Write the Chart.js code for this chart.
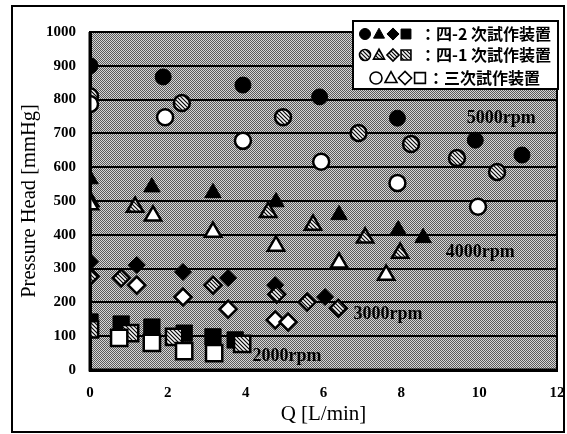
<!DOCTYPE html>
<html>
<head>
<meta charset="utf-8">
<script src="https://cdn.jsdelivr.net/npm/chart.js@4.4.1/dist/chart.umd.min.js"></script>
<style>
  body { margin: 0; background: #fff; }
  #wrap { width: 567px; height: 434px; }
</style>
</head>
<body>
<div id="wrap"><canvas id="pumpChart" width="567" height="434"></canvas></div>
<script>
// Q [L/min] and pressure head [mmHg]
// 四-2 次試作装置 (filled markers)
const q42_5000 = [0, 1.88, 3.93, 5.9, 7.9, 9.9, 11.1];
const h42_5000 = [900, 867, 843, 808, 745, 680, 636];
const q42_4000 = [0, 1.59, 3.16, 4.78, 6.4, 7.92, 8.56];
const h42_4000 = [565, 541, 524, 497, 459, 414, 391];
const q42_3000 = [0, 1.2, 2.39, 3.55, 4.76, 6.04];
const h42_3000 = [320, 311, 290, 272, 251, 216];
const q42_2000 = [0, 0.8, 1.59, 2.42, 3.16, 3.73];
const h42_2000 = [142, 136, 127, 109, 98, 89];
// 四-1 次試作装置 (hatched markers)
const q41_5000 = [0, 2.36, 4.96, 6.9, 8.25, 9.43, 10.46];
const h41_5000 = [810, 790, 748, 701, 669, 627, 586];
const q41_4000 = [0, 1.16, 4.58, 5.73, 7.07, 7.97];
const h41_4000 = [500, 482, 467, 429, 391, 346];
const q41_3000 = [0, 0.8, 3.16, 4.8, 5.58, 6.38];
const h41_3000 = [277, 272, 251, 224, 201, 183];
const q41_2000 = [0, 1.03, 2.16, 3.91];
const h41_2000 = [120, 109, 98, 77];
// 三次試作装置 (open markers)
const q3_5000 = [0, 1.93, 3.93, 5.94, 7.9, 9.97];
const h3_5000 = [787, 748, 678, 616, 553, 483];
const q3_4000 = [0, 1.62, 3.16, 4.78, 6.4, 7.61];
const h3_4000 = [490, 456, 408, 367, 317, 281];
const q3_3000 = [1.2, 2.39, 3.55, 4.76, 5.09];
const h3_3000 = [251, 216, 180, 148, 142];
const q3_2000 = [0.75, 1.59, 2.42, 3.19];
const h3_2000 = [95, 80, 56, 50];

const xTicks = [0, 2, 4, 6, 8, 10, 12];
const yTicks = [0, 100, 200, 300, 400, 500, 600, 700, 800, 900, 1000];
const rpmLabels = ["5000rpm", "4000rpm", "3000rpm", "2000rpm"];
const rpmLabelQ = [10.57, 10.03, 7.66, 5.06];
const rpmLabelH = [745, 349, 166, 41];

// fill patterns
function makeHatch() {
  const c = document.createElement("canvas");
  c.width = 4; c.height = 4;
  const g = c.getContext("2d");
  g.fillStyle = "#f2f2f2";
  g.fillRect(0, 0, 4, 4);
  g.strokeStyle = "#000";
  g.lineWidth = 1.1;
  g.beginPath();
  g.moveTo(0, 0); g.lineTo(4, 4);
  g.moveTo(-1, 3); g.lineTo(1, 5);
  g.moveTo(3, -1); g.lineTo(5, 1);
  g.stroke();
  return g.createPattern(c, "repeat");
}
function makeStipple() {
  const c = document.createElement("canvas");
  c.width = 2; c.height = 2;
  const g = c.getContext("2d");
  g.fillStyle = "#d6d6d6";
  g.fillRect(0, 0, 2, 2);
  g.fillStyle = "#5a5a5a";
  g.fillRect(0, 0, 1, 1);
  g.fillRect(1, 1, 1, 1);
  return g.createPattern(c, "repeat");
}
const hatch = makeHatch();
const stipple = makeStipple();

function pts(xs, ys) {
  return xs.map((x, i) => ({ x: x, y: ys[i] }));
}

const shapes = { 5000: "circle", 4000: "triangle", 3000: "rectRot", 2000: "rect" };
const sizes = { 5000: 8, 4000: 9.5, 3000: 8.5, 2000: 11.5 };

function series(label, xs, ys, rpm, kind) {
  let fill = "#000";
  if (kind === "hatch") fill = hatch;
  if (kind === "open") fill = "#fff";
  return {
    label: label,
    data: pts(xs, ys),
    pointStyle: shapes[rpm],
    pointRadius: sizes[rpm],
    pointHoverRadius: sizes[rpm],
    pointBackgroundColor: fill,
    pointBorderColor: "#000",
    pointBorderWidth: kind === "filled" ? 1 : 2.5,
    showLine: false
  };
}

const datasets = [
  series("三次 5000", q3_5000, h3_5000, 5000, "open"),
  series("三次 4000", q3_4000, h3_4000, 4000, "open"),
  series("三次 3000", q3_3000, h3_3000, 3000, "open"),
  series("三次 2000", q3_2000, h3_2000, 2000, "open"),
  series("四-1 5000", q41_5000, h41_5000, 5000, "hatch"),
  series("四-1 4000", q41_4000, h41_4000, 4000, "hatch"),
  series("四-1 3000", q41_3000, h41_3000, 3000, "hatch"),
  series("四-1 2000", q41_2000, h41_2000, 2000, "hatch"),
  series("四-2 5000", q42_5000, h42_5000, 5000, "filled"),
  series("四-2 4000", q42_4000, h42_4000, 4000, "filled"),
  series("四-2 3000", q42_3000, h42_3000, 3000, "filled"),
  series("四-2 2000", q42_2000, h42_2000, 2000, "filled")
];

function shape(ctx, kind, x, y, s) {
  ctx.beginPath();
  if (kind === "circle") {
    ctx.arc(x, y, s, 0, Math.PI * 2);
  } else if (kind === "triangle") {
    ctx.moveTo(x, y - s * 1.05);
    ctx.lineTo(x + s, y + s * 0.75);
    ctx.lineTo(x - s, y + s * 0.75);
    ctx.closePath();
  } else if (kind === "diamond") {
    ctx.moveTo(x, y - s * 1.1);
    ctx.lineTo(x + s * 1.1, y);
    ctx.lineTo(x, y + s * 1.1);
    ctx.lineTo(x - s * 1.1, y);
    ctx.closePath();
  } else {
    ctx.rect(x - s * 0.9, y - s * 0.9, s * 1.8, s * 1.8);
  }
}

const decorations = {
  id: "decorations",
  beforeDraw(chart) {
    const { ctx, chartArea: a } = chart;
    ctx.save();
    ctx.fillStyle = stipple;
    ctx.fillRect(a.left, a.top, a.right - a.left, a.bottom - a.top);
    ctx.restore();
  },
  afterDatasetsDraw(chart) {
    const { ctx, chartArea: a, scales } = chart;
    ctx.save();
    ctx.strokeStyle = "#000";
    ctx.lineWidth = 2;
    ctx.strokeRect(a.left, a.top, a.right - a.left, a.bottom - a.top);
    ctx.lineWidth = 3;
    ctx.beginPath();
    ctx.moveTo(a.left, a.top); ctx.lineTo(a.left, a.bottom); ctx.lineTo(a.right, a.bottom);
    ctx.stroke();

    // rpm annotations
    ctx.fillStyle = "#000";
    ctx.font = "bold 18px 'Liberation Serif'";
    ctx.textAlign = "center";
    ctx.textBaseline = "middle";
    rpmLabels.forEach((t, i) => {
      ctx.fillText(t, scales.x.getPixelForValue(rpmLabelQ[i]), scales.y.getPixelForValue(rpmLabelH[i]));
    });
    ctx.restore();
  },
  afterDraw(chart) {
    const ctx = chart.ctx;
    ctx.save();
    // outer frame
    ctx.strokeStyle = "#000";
    ctx.lineWidth = 2;
    ctx.strokeRect(12, 6, 552, 426);

    // legend box
    ctx.fillStyle = "#fff";
    ctx.fillRect(353, 21, 205, 68);
    ctx.strokeRect(353, 21, 205, 68);

    const kinds = ["circle", "triangle", "diamond", "square"];
    const rows = [
      { y: 34, fill: "#000", lw: 1, xs: [365, 379, 393, 406], s: 5.5, text: "：四-2 次試作装置", tx: 420 },
      { y: 55, fill: hatch, lw: 1.6, xs: [365, 379, 393, 406], s: 5.5, text: "：四-1 次試作装置", tx: 420 },
      { y: 78, fill: "#fff", lw: 1.6, xs: [376, 391, 405, 420], s: 6, text: "：三次試作装置", tx: 428 }
    ];
    rows.forEach(r => {
      kinds.forEach((k, i) => {
        shape(ctx, k, r.xs[i], r.y, r.s);
        ctx.fillStyle = r.fill;
        ctx.fill();
        ctx.lineWidth = r.lw;
        ctx.strokeStyle = "#000";
        ctx.stroke();
      });
      ctx.fillStyle = "#000";
      ctx.font = "bold 16px 'Noto Sans CJK JP'";
      ctx.textAlign = "left";
      ctx.textBaseline = "middle";
      ctx.fillText(r.text, r.tx, r.y);
    });
    ctx.restore();
  }
};

new Chart(document.getElementById("pumpChart"), {
  type: "scatter",
  data: { datasets: datasets },
  options: {
    responsive: false,
    animation: false,
    devicePixelRatio: 1,
    layout: { autoPadding: false, padding: { left: 14, top: 32, right: 10, bottom: 6 } },
    plugins: {
      legend: { display: false },
      tooltip: { enabled: false }
    },
    scales: {
      x: {
        type: "linear",
        min: 0,
        max: 12,
        afterBuildTicks: (axis) => { axis.ticks = xTicks.map(v => ({ value: v })); },
        afterFit: (axis) => {
          axis.height = 58;
          axis.paddingLeft = 0;
          axis.paddingRight = 0;
        },
        grid: { display: false, drawTicks: false },
        border: { color: "#000", width: 3 },
        ticks: {
          padding: 14,
          color: "#000",
          callback: (v) => String(v),
          font: { family: "'Liberation Serif'", size: 15, weight: "bold" }
        },
        title: {
          display: true,
          text: "Q [L/min]",
          color: "#000",
          padding: { top: 0, bottom: 1 },
          font: { family: "'Liberation Serif'", size: 21 }
        }
      },
      y: {
        type: "linear",
        min: 0,
        max: 1000,
        afterBuildTicks: (axis) => { axis.ticks = yTicks.map(v => ({ value: v })); },
        afterFit: (axis) => { axis.width = 76; },
        grid: { color: "#000", lineWidth: 2, drawTicks: false },
        border: { color: "#000", width: 3 },
        ticks: {
          padding: 14,
          color: "#000",
          callback: (v) => String(v),
          font: { family: "'Liberation Serif'", size: 15, weight: "bold" }
        },
        title: {
          display: true,
          text: "Pressure Head [mmHg]",
          color: "#000",
          padding: { top: 3, bottom: 0 },
          font: { family: "'Liberation Serif'", size: 20.5 }
        }
      }
    }
  },
  plugins: [decorations]
});
</script>
</body>
</html>
